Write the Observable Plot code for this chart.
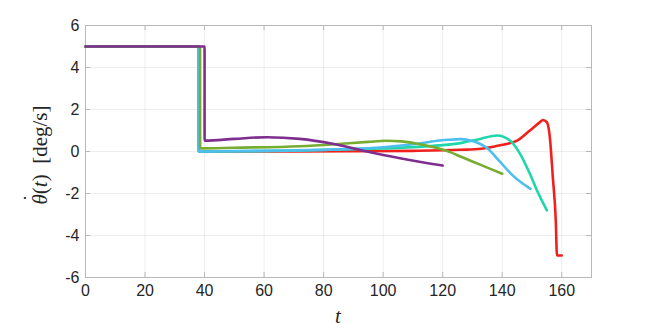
<!DOCTYPE html>
<html><head><meta charset="utf-8">
<script src="https://cdn.jsdelivr.net/npm/d3@7"></script>
<script src="https://cdn.jsdelivr.net/npm/@observablehq/plot@0.6"></script>
<style>
body{margin:0;background:#fff;}
#wrap{position:relative;width:654px;height:329px;}
.ylab{position:absolute;left:40px;top:155px;transform:translate(-50%,-50%) rotate(-90deg);font-family:"Liberation Serif",serif;font-size:21px;white-space:nowrap;color:#262626;}
.th{position:relative;display:inline-block;font-style:italic;}
.dot{position:absolute;left:0.14em;top:-0.42em;font-style:normal;}
.xlab{position:absolute;left:338px;top:316px;transform:translate(-50%,-50%);font-family:"Liberation Serif",serif;font-style:italic;font-size:21px;color:#262626;}
</style></head>
<body>
<div id="wrap"></div>
<script>
const xTicks = [0, 20, 40, 60, 80, 100, 120, 140, 160];
const yTicks = [-6, -4, -2, 0, 2, 4, 6];

const seriesNames = ["run A", "run B", "run C", "run D", "run E"];
const seriesColors = ["#f0211d", "#1fd6ab", "#4dbeee", "#77ac30", "#7e2f8e"];

const tA = [0, 38, 38.01, 50, 70, 90, 110, 126, 133, 139, 145, 149.3, 152.7, 153.7, 155, 156, 157, 158, 158.4, 160];
const yA = [5, 5, 0, 0, 0, 0.01, 0.03, 0.08, 0.13, 0.29, 0.52, 1.0, 1.4, 1.5, 1.4, 0.68, -1.22, -3.3, -4.95, -4.95];

const tB = [0, 38, 38.01, 50, 70, 82, 100, 112, 119, 126, 132.6, 138.3, 142.6, 146, 149.3, 151.7, 155];
const yB = [5, 5, 0, 0.01, 0.04, 0.08, 0.15, 0.22, 0.29, 0.4, 0.6, 0.76, 0.52, -0.11, -1.06, -1.86, -2.8];

const tC = [0, 38, 38.01, 50, 70, 85, 100, 112, 119, 122, 126, 130, 135, 139, 143.6, 149.5];
const yC = [5, 5, 0, 0.02, 0.05, 0.1, 0.2, 0.38, 0.52, 0.56, 0.59, 0.5, 0.15, -0.45, -1.15, -1.78];

const tD = [0, 38.5, 38.51, 50, 72, 85, 95, 101, 106, 111, 117, 122.5, 126, 133, 140];
const yD = [5, 5, 0.15, 0.18, 0.25, 0.36, 0.46, 0.51, 0.48, 0.38, 0.2, -0.03, -0.24, -0.65, -1.06];

const tE = [0, 40, 40.01, 50, 61, 72, 83, 94.6, 105.7, 120];
const yE = [5, 5, 0.52, 0.6, 0.68, 0.6, 0.37, 0, -0.32, -0.67];

const seriesT = [tA, tB, tC, tD, tE];
const seriesY = [yA, yB, yC, yD, yE];

const rows = [];
seriesNames.forEach((name, i) => {
  seriesT[i].forEach((t, j) => rows.push({name, t, v: seriesY[i][j]}));
});

const axisGray = "#b8b8b8";
const chart = Plot.plot({
  width: 654,
  height: 329,
  marginLeft: 85,
  marginRight: 63,
  marginTop: 25,
  marginBottom: 52,
  style: {fontFamily: "'Liberation Sans', Arial, sans-serif", fontSize: "16px", color: "#262626", background: "#fff"},
  x: {domain: [0, 170]},
  y: {domain: [-6, 6]},
  color: {type: "ordinal", domain: seriesNames, range: seriesColors},
  marks: [
    Plot.gridX(xTicks, {stroke: "#000", strokeOpacity: 0.07}),
    Plot.gridY(yTicks, {stroke: "#000", strokeOpacity: 0.07}),
    Plot.frame({stroke: axisGray}),
    Plot.ruleX(xTicks, {x: d => d, y1: -6, y2: -5.76, stroke: axisGray}),
    Plot.ruleX(xTicks, {x: d => d, y1: 6, y2: 5.76, stroke: axisGray}),
    Plot.ruleY(yTicks, {y: d => d, x1: 0, x2: 1.7, stroke: axisGray}),
    Plot.ruleY(yTicks, {y: d => d, x1: 170, x2: 168.3, stroke: axisGray}),
    Plot.line(rows, {x: "t", y: "v", z: "name", stroke: "name", strokeWidth: 2.6, curve: "monotone-x"}),
    Plot.axisX(xTicks, {tickSize: 0, tickPadding: 7, label: null, tickFormat: d => String(d), fontSize: 16, fill: "#262626"}),
    Plot.axisY(yTicks, {tickSize: 0, tickPadding: 6, label: null, tickFormat: d => String(d), fontSize: 16, fill: "#262626"})
  ]
});
const wrap = document.getElementById("wrap");
wrap.appendChild(chart);
const yl = document.createElement("div");
yl.className = "ylab";
yl.innerHTML = '<span class="th">θ<span class="dot">˙</span></span>(<i>t</i>)&nbsp;&nbsp;[deg/s]';
wrap.appendChild(yl);
const xl = document.createElement("div");
xl.className = "xlab";
xl.textContent = "t";
wrap.appendChild(xl);
</script>
</body></html>
